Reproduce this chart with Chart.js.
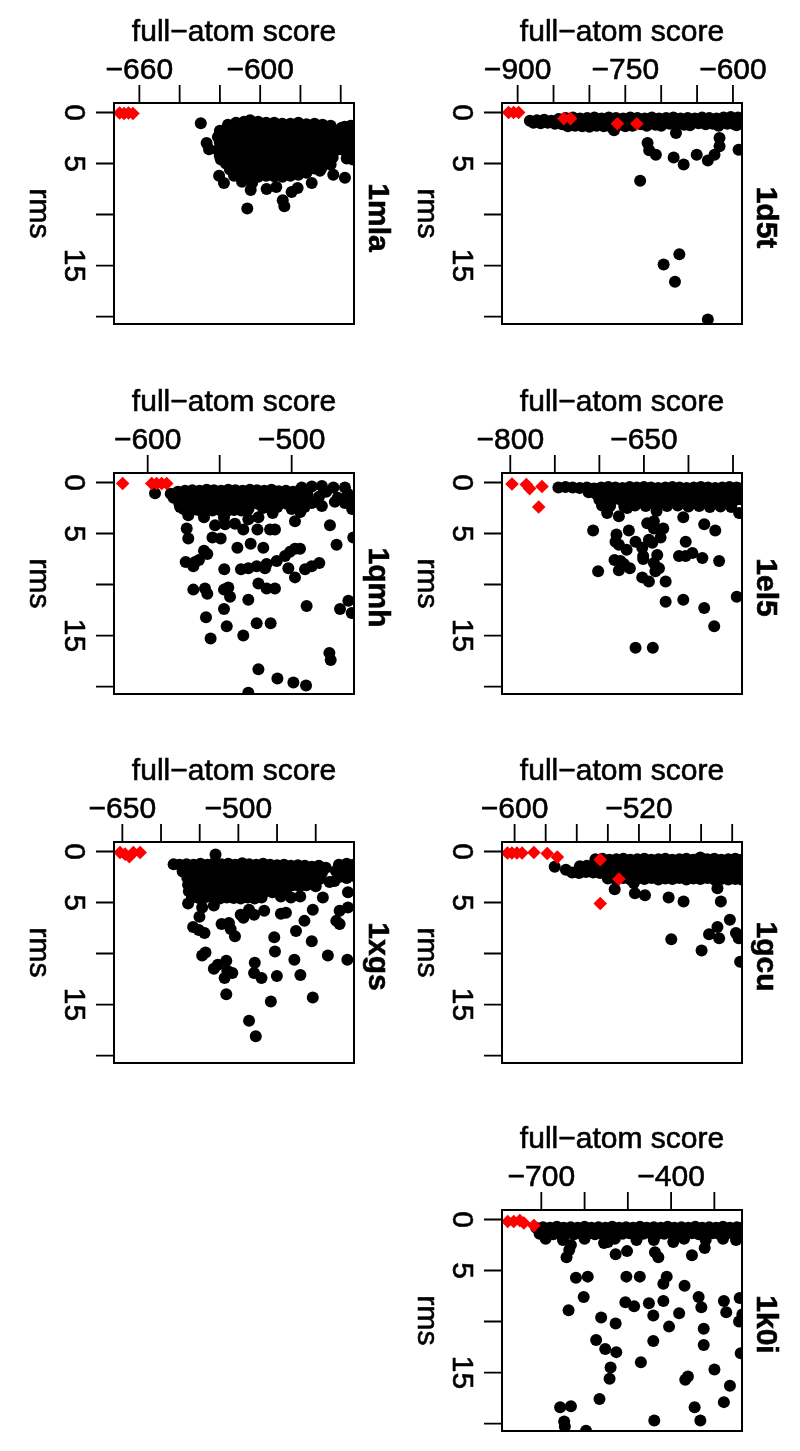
<!DOCTYPE html>
<html>
<head>
<meta charset="utf-8">
<script src="https://cdn.jsdelivr.net/npm/chart.js@4.4.1/dist/chart.umd.min.js"></script>
<style>
  html, body { margin: 0; padding: 0; background: #fff; overflow: hidden; }
  #wrap { position: relative; width: 800px; height: 1451px; }
  #wrap canvas { position: absolute; }
</style>
</head>
<body>
<div id="wrap"></div>
<script>
// rms axis, same for every panel
var yTicks = [0, 5, 10, 15, 20];
var yTickLabels = [0, 5, 15];

// ---- 1mla ----
var mlaTicks = [-660, -640, -620, -600, -580, -560];
var mlaTickLabels = [-660, -600];
var mlaRed = [[-669.8,0.05],[-667.6,0.1],[-665.4,0.05],[-663.2,0.1]];
var mlaBlack = [
  [-616,1.2],[-612,1.0],[-608,0.9],[-605,0.75],[-601,0.9],[-597,1.0],[-593,1.0],[-589,1.1],[-585,1.1],[-581,1.0],[-577,1.15],[-573,1.1],[-569,1.2],[-565,1.3],[-558,1.4],[-555,1.3],
  [-620,1.8],[-616.5,1.7],[-613,1.6],[-609.5,1.7],[-606,1.6],[-602.5,1.7],[-599,1.6],[-595.5,1.7],[-592,1.6],[-588.5,1.7],[-585,1.6],[-581.5,1.7],[-578,1.6],[-574.5,1.7],[-571,1.7],[-567.5,1.8],[-564,1.8],[-560.5,1.7],[-557,1.8],[-554,1.7],
  [-621,2.4],[-618,2.3],[-614.5,2.4],[-611,2.35],[-607.5,2.3],[-604,2.4],[-600.5,2.35],[-597,2.3],[-593.5,2.4],[-590,2.35],[-586.5,2.3],[-583,2.4],[-579.5,2.35],[-576,2.3],[-572.5,2.4],[-569,2.35],[-565.5,2.4],[-562,2.3],[-558.5,2.4],[-555,2.35],
  [-620,3.0],[-616.5,3.05],[-613,2.95],[-609.5,3.0],[-606,3.05],[-602.5,2.95],[-599,3.0],[-595.5,3.05],[-592,2.95],[-588.5,3.0],[-585,3.05],[-581.5,2.95],[-578,3.0],[-574.5,3.05],[-571,2.95],[-567.5,3.0],[-564,3.05],[-560.5,2.95],[-557,3.0],[-554,3.05],
  [-621,3.7],[-618,3.6],[-614.5,3.65],[-611,3.7],[-607.5,3.6],[-604,3.65],[-600.5,3.7],[-597,3.6],[-593.5,3.65],[-590,3.7],[-586.5,3.6],[-583,3.65],[-579.5,3.7],[-576,3.6],[-572.5,3.65],[-569,3.7],[-565.5,3.6],[-562,3.65],[-558.5,3.7],[-555,3.6],
  [-620,4.3],[-616.5,4.35],[-613,4.25],[-609.5,4.3],[-606,4.35],[-602.5,4.25],[-599,4.3],[-595.5,4.35],[-592,4.25],[-588.5,4.3],[-585,4.35],[-581.5,4.25],[-578,4.3],[-574.5,4.35],[-571,4.25],[-567.5,4.3],[-564,4.4],[-557,4.5],[-554,4.6],
  [-617,5.0],[-614,4.95],[-610.5,5.0],[-607,4.9],[-603.5,5.0],[-600,4.95],[-596.5,5.0],[-593,4.9],[-589.5,5.0],[-586,4.95],[-582.5,5.0],[-579,4.9],[-575.5,5.0],[-572,4.95],[-568.5,5.0],[-565,5.1],
  [-615,5.6],[-611.5,5.65],[-608,5.55],[-604.5,5.6],[-601,5.65],[-597.5,5.55],[-594,5.6],[-590.5,5.65],[-587,5.55],[-583.5,5.6],[-580,5.65],[-576.5,5.55],[-573,5.5],[-569.5,5.45],
  [-613,6.2],[-609,6.3],[-605,6.4],[-601,6.3],[-597,6.2],[-593,6.25],[-589,6.3],[-585,6.2],[-581,6.1],[-577,5.9],
  [-609,6.8],[-604,6.9],[-629.5,1.05],[-626.6,3.0],[-625.4,3.6],[-620.4,6.2],[-618,6.9],[-604.7,7.6],[-606.4,9.4],
  [-596.8,7.5],[-592,7.3],[-588.8,8.6],[-588,9.2],[-584.4,7.8],[-581.4,7.4],[-574.4,6.9],[-570.3,5.7],[-563.7,6.1],
  [-557.9,6.4],[-559.5,1.5],[-619.5,4.6]
];

// ---- 1d5t ----
var d5tTicks = [-900, -850, -800, -750, -700, -650, -600];
var d5tTickLabels = [-900, -750, -600];
var d5tRed = [[-912.6,0],[-905.6,0],[-898.6,0],[-835.6,0.6],[-826.3,0.6],[-761,1.1],[-734,1.1]];
var d5tBlack = [
  [-883,0.8],[-873,0.75],[-863,0.7],[-853,0.8],[-843,0.65],[-833,0.55],[-823,0.5],[-813,0.6],[-803,0.55],[-793,0.5],[-783,0.6],[-773,0.5],[-763,0.55],[-753,0.6],[-743,0.5],[-733,0.55],[-723,0.6],[-713,0.5],[-703,0.6],[-693,0.55],[-683,0.5],[-673,0.6],[-663,0.55],[-653,0.6],[-643,0.5],[-633,0.55],[-623,0.6],[-613,0.5],[-603,0.45],[-593,0.5],[-588,0.6],
  [-878,1.0],[-868,1.05],[-858,1.0],[-848,1.1],[-838,1.15],[-828,1.2],[-818,1.15],[-808,1.1],[-798,1.2],[-788,1.15],[-778,1.1],[-768,1.25],[-758,1.2],[-748,1.15],[-738,1.2],[-728,1.15],[-718,1.1],[-708,1.2],[-698,1.15],[-688,1.1],[-678,1.15],[-668,1.2],[-658,1.1],[-648,1.05],[-638,1.15],[-628,1.1],[-618,1.05],[-608,1.1],[-598,1.15],[-590,1.0],
  [-830,1.35],[-820,1.3],[-810,1.35],[-800,1.4],[-790,1.3],[-780,1.35],[-770,1.4],[-750,1.35],[-740,1.3],[-720,1.3],[-700,1.3],[-660,1.25],[-620,1.3],[-595,1.25],
  [-765.7,1.75],[-679.4,2.0],[-719,3.0],[-716.7,3.7],[-707.4,4.15],[-729.3,6.7],[-682.6,4.4],[-668.7,5.1],
  [-650.5,4.15],[-635,4.7],[-625.7,4.15],[-618.7,3.3],[-618.7,2.5],[-592.2,3.66],[-696.6,14.9],[-674.7,13.9],
  [-680.8,16.6],[-635,20.3]
];

// ---- 1qmh ----
var qmhTicks = [-600, -550, -500];
var qmhTickLabels = [-600, -500];
var qmhRed = [[-617.4,0.1],[-597.2,0.1],[-593.8,0.1],[-590.3,0.1],[-586.8,0.1]];
var qmhBlack = [
  [-594.9,1.05],
  [-584,1.1],[-579,0.9],[-574,0.8],[-569,0.75],[-564,0.8],[-559,0.7],[-554,0.75],[-549,0.8],[-544,0.7],[-539,0.75],[-534,0.8],[-529,0.7],[-524,0.75],[-519,0.8],[-514,0.7],[-509,0.85],[-504,0.8],[-499,0.9],[-494,0.7],
  [-582,1.5],[-576.5,1.45],[-571.5,1.5],[-566.5,1.4],[-561.5,1.45],[-556.5,1.5],[-551.5,1.4],[-546.5,1.45],[-541.5,1.5],[-536.5,1.4],[-531.5,1.45],[-526.5,1.5],[-521.5,1.4],[-516.5,1.45],[-511.5,1.5],[-506.5,1.4],[-501.5,1.5],[-496.5,1.6],[-491,1.5],
  [-578,2.1],[-573,2.05],[-568,2.15],[-563,2.1],[-558,2.05],[-553,2.15],[-548,2.1],[-543,2.05],[-538,2.15],[-533,2.1],[-528,2.05],[-523,2.1],[-518,2.05],[-513,2.1],[-508,2.0],[-503,2.1],[-498,2.2],
  [-575,2.6],[-570,2.75],[-565,2.7],[-560,2.65],[-555,2.75],[-550,2.7],[-545,2.8],[-540,2.7],[-535,2.75],[-530,2.6],[-520,2.5],[-510,2.4],[-500,2.6],[-494,2.9],
  [-493,0.5],[-486,0.4],[-479,0.35],[-471,0.5],[-463,0.5],[-489,1.2],[-481,1.4],[-476,0.9],[-468,1.5],[-461,1.1],[-457,1.6],[-486,2.0],[-479,2.3],[-470,1.9],[-463,2.0],[-458,2.6],[-491,2.4],
  [-577.5,2.4],[-571.8,3.2],[-560.9,3.4],[-572.9,4.5],[-571.8,5.5],[-553.2,4.2],[-555,5.4],[-549.3,5.5],
  [-547,3.4],[-546.3,4.1],[-539.4,4.05],[-533.6,4.6],[-530.1,3.6],[-523.1,3.4],[-523.8,4.6],[-513.2,3.0],
  [-515,4.6],[-511.6,4.6],[-497.7,3.8],[-560.9,6.7],[-558.6,7.0],[-537.7,6.4],[-528.5,6.0],[-519.7,6.4],
  [-573.6,7.8],[-567.1,7.8],[-564.4,7.6],[-568.3,8.2],[-546.8,8.5],[-535.2,8.5],[-530.1,8.4],[-524.3,8.2],
  [-518.5,8.4],[-517.4,8.0],[-510.4,7.7],[-504.6,7.2],[-501.2,6.8],[-497.7,6.5],[-494.2,6.5],[-502.3,8.4],
  [-497.7,9.3],[-490.7,8.5],[-486.1,8.2],[-480.8,7.9],[-473.4,4.2],[-468.8,6.1],[-457.2,5.4],[-568.3,10.5],
  [-560.2,10.4],[-558.6,10.9],[-547,10.5],[-544,10.3],[-542.8,11.2],[-523.1,9.9],[-517.4,10.4],[-511.6,10.4],
  [-530.1,11.5],[-547,12.4],[-489.6,12.1],[-466.4,12.4],[-460.6,11.6],[-458.3,12.8],[-559.5,13.2],[-545.1,14.1],
  [-556.3,15.3],[-533.6,15.0],[-524.3,13.8],[-514.6,13.8],[-473.8,16.7],[-472.9,17.4],[-523.1,18.3],[-509.9,19.2],
  [-498.8,19.6],[-490,19.9],[-530.1,20.6]
];

// ---- 1el5 ----
var el5Ticks = [-800, -750, -700, -650, -600, -550];
var el5TickLabels = [-800, -650];
var el5Red = [[-798.1,0.15],[-782,0.2],[-778.3,0.6],[-764.4,0.4],[-768.1,2.4]];
var el5Black = [
  [-746,0.5],[-738,0.45],[-730,0.5],[-722,0.55],[-714,0.5],[-706,0.6],[-698,0.5],[-690,0.45],[-682,0.5],[-674,0.55],[-666,0.45],[-658,0.5],[-650,0.45],[-642,0.5],[-634,0.55],[-626,0.5],[-618,0.45],[-610,0.5],[-602,0.55],[-594,0.5],[-586,0.45],[-578,0.5],[-570,0.55],[-562,0.5],[-554,0.45],[-546,0.5],[-541,0.6],
  [-712,0.95],[-704,1.1],[-696,1.05],[-688,1.15],[-680,1.1],[-672,1.05],[-664,1.15],[-656,1.1],[-648,1.05],[-640,1.1],[-632,1.15],[-624,1.05],[-616,1.1],[-608,1.15],[-600,1.05],[-592,1.1],[-584,1.15],[-576,1.05],[-568,1.1],[-560,1.15],[-552,1.05],[-544,1.1],
  [-700,1.7],[-692,1.75],[-684,1.65],[-676,1.7],[-668,1.75],[-660,1.65],[-652,1.7],[-644,1.75],[-636,1.65],[-628,1.7],[-620,1.75],[-612,1.65],[-604,1.7],[-596,1.75],[-588,1.65],[-580,1.7],[-572,1.75],[-564,1.65],[-556,1.7],[-548,1.75],[-541,1.65],
  [-697,2.25],[-688,2.3],[-672,2.35],[-660,2.25],[-648,2.3],[-636,2.4],[-624,2.3],[-612,2.25],[-600,2.35],[-588,2.3],[-576,2.4],[-564,2.35],[-552,2.4],
  [-691.3,3.0],[-678.1,3.3],[-693.1,2.3],[-668.8,2.5],[-707,4.7],[-680.8,5.1],[-681.9,5.8],[-678.1,6.1],
  [-666.9,4.7],[-669.4,6.6],[-659.4,5.8],[-651.9,6.4],[-650.8,7.2],[-644.4,5.6],[-640.6,5.9],[-646.3,4.0],
  [-638.8,3.8],[-635.8,2.8],[-638.8,4.5],[-628.3,4.5],[-631.3,5.4],[-635,7.1],[-633.1,8.4],[-638.8,7.9],
  [-637.1,8.7],[-650.8,7.5],[-683,7.6],[-676.3,7.7],[-672.5,8.0],[-665.8,8.4],[-678.1,8.6],[-701.4,8.7],
  [-651.9,9.3],[-644.4,9.7],[-625.6,9.7],[-605.8,3.4],[-603.1,5.8],[-610.6,7.2],[-603.1,7.2],[-595.6,6.9],
  [-625.6,11.7],[-605.8,11.5],[-584.4,7.4],[-565.6,7.7],[-582.3,4.1],[-569.9,4.7],[-545.8,11.2],[-582.3,12.3],
  [-571.1,14.1],[-659.4,16.2],[-640,16.2],[-543.1,3.0]
];

// ---- 1xgs ----
var xgsTicks = [-650, -600, -550, -500, -450, -400];
var xgsTickLabels = [-650, -500];
var xgsRed = [[-653,0.1],[-646.5,0.26],[-640.9,0.5],[-635.7,0.1],[-627,0.1]];
var xgsBlack = [
  [-583.7,1.24],[-529.5,0.3],
  [-576,1.3],[-567,1.25],[-558,1.3],[-549,1.2],[-540,1.3],[-531,1.1],[-522,1.25],[-513,1.2],[-504,1.3],[-495,1.15],[-486,1.25],[-477,1.3],[-468,1.2],[-459,1.3],[-450,1.35],[-441,1.3],[-432,1.4],[-423,1.35],[-414,1.4],[-405,1.5],[-396,1.4],[-387,1.6],[-370,1.3],[-360,1.2],[-351,1.3],
  [-572,1.95],[-563,2.0],[-554,1.9],[-545,1.95],[-536,2.0],[-527,1.9],[-518,1.95],[-509,2.0],[-500,1.9],[-491,1.95],[-482,2.0],[-473,1.9],[-464,1.95],[-455,2.0],[-446,1.9],[-437,1.95],[-428,2.0],[-419,1.9],[-410,1.95],[-401,2.0],[-392,2.1],[-374,1.9],[-365,1.95],[-356,2.0],[-350,1.9],
  [-566,2.6],[-557,2.65],[-548,2.55],[-539,2.6],[-530,2.65],[-521,2.55],[-512,2.6],[-503,2.65],[-494,2.55],[-485,2.6],[-476,2.65],[-467,2.55],[-458,2.6],[-449,2.65],[-440,2.55],[-431,2.6],[-422,2.7],[-413,2.6],[-404,2.8],[-395,2.7],[-370,2.5],[-360,2.6],[-351,2.4],
  [-565,3.25],[-556,3.3],[-547,3.2],[-538,3.25],[-529,3.3],[-520,3.2],[-511,3.25],[-502,3.3],[-493,3.2],[-484,3.25],[-475,3.3],[-466,3.2],[-457,3.25],[-448,3.3],[-439,3.2],[-430,3.3],[-421,3.4],[-412,3.3],[-400,3.4],
  [-564,3.9],[-555,3.95],[-546,3.85],[-537,3.9],[-528,3.95],[-519,3.85],[-510,3.9],[-501,3.95],[-492,3.85],[-483,3.9],[-474,3.95],[-465,3.9],[-456,4.0],[-447,3.9],[-438,4.1],
  [-560,4.5],[-551,4.55],[-542,4.45],[-533,4.5],[-524,4.6],[-515,4.5],[-506,4.55],[-497,4.6],[-488,4.5],[-479,4.6],[-470,4.5],[-445,4.4],[-432,4.5],[-420,4.4],
  [-565,5.1],[-546.8,5.5],[-550.3,6.4],[-531.7,5.3],[-558.5,7.4],[-551.2,7.7],[-543.8,8.0],[-521.7,7.1],
  [-512.2,7.0],[-510,7.6],[-504.4,8.3],[-497,6.2],[-493.5,6.5],[-486.2,5.7],[-479.7,6.2],[-466.6,5.8],
  [-445,6.1],[-438.5,6.0],[-414.6,6.8],[-403.8,5.7],[-425.5,7.8],[-453.6,8.4],[-405.1,8.8],[-373.4,6.8],
  [-369.1,7.1],[-358.3,5.5],[-369.1,5.8],[-358.3,4.0],[-382.1,3.0],[-375.6,2.9],[-390.8,4.5],[-546.8,10.2],
  [-542.5,9.9],[-531.7,11.5],[-526.5,11.1],[-515.6,10.7],[-514.3,11.7],[-507.8,11.9],[-517.8,12.4],[-478.8,10.9],
  [-479.7,11.9],[-470.1,12.4],[-452.7,9.8],[-450.2,12.2],[-427.6,10.6],[-419.8,12.1],[-384.3,10.2],[-359.1,10.6],
  [-515.6,14.0],[-458,14.7],[-403.8,14.3],[-486.2,16.6],[-477.5,18.1]
];

// ---- 1gcu ----
var gcuTicks = [-600, -580, -560, -540, -520, -500, -480, -460];
var gcuTickLabels = [-600, -520];
var gcuRed = [[-604.6,0.15],[-601.7,0.15],[-598.5,0.15],[-595.2,0.15],[-587.6,0.1],[-579,0.2],[-572.5,0.55],[-544.9,0.8],[-532.8,2.7],[-544.9,5.1]];
var gcuBlack = [
  [-574.2,1.5],[-567,1.8],
  [-548,0.75],[-543.5,0.7],[-539,0.8],[-534.5,0.75],[-530,0.7],[-525.5,0.8],[-521,0.75],[-516.5,0.7],[-512,0.8],[-507.5,0.75],[-503,0.7],[-498.5,0.8],[-494,0.75],[-489.5,0.7],[-485,0.8],[-480.5,0.6],[-476,0.75],[-471.5,0.7],[-467,0.8],[-462.5,0.75],[-458,0.7],[-454,0.8],
  [-558,1.45],[-553.5,1.4],[-549,1.45],[-544.5,1.4],[-540,1.45],[-535.5,1.4],[-531,1.45],[-526.5,1.4],[-522,1.45],[-517.5,1.4],[-513,1.45],[-508.5,1.4],[-504,1.45],[-499.5,1.4],[-495,1.45],[-490.5,1.4],[-486,1.45],[-481.5,1.4],[-477,1.45],[-472.5,1.4],[-468,1.45],[-463.5,1.4],[-459,1.45],[-454.5,1.4],
  [-563,2.05],[-558.5,2.1],[-554,2.0],[-549.5,2.05],[-545,2.1],[-540.5,2.0],[-536,2.05],[-531.5,2.1],[-527,2.0],[-522.5,2.05],[-518,2.1],[-513.5,2.0],[-509,2.05],[-504.5,2.1],[-500,2.0],[-495.5,2.05],[-491,2.1],[-486.5,2.0],[-482,2.05],[-477.5,2.1],[-473,2.0],[-468.5,2.05],[-464,2.1],[-459.5,2.0],[-455,2.05],
  [-540,2.65],[-535,2.7],[-530,2.6],[-525.5,2.75],[-521,2.65],[-516.5,2.7],[-512,2.6],[-507.5,2.75],[-503,2.65],[-498.5,2.7],[-494,2.6],[-489.5,2.75],[-485,2.65],[-480.5,2.7],[-476,2.6],[-471.5,2.75],[-467,2.7],[-462.5,2.75],[-458,2.7],[-454,2.75],
  [-535.6,3.7],[-523.3,3.1],[-522.6,4.1],[-516.1,4.3],[-500.9,4.5],[-491.3,4.9],[-467.3,4.9],[-469.5,3.6],
  [-461.5,6.7],[-469.5,7.4],[-474.9,8.1],[-468.4,8.5],[-457.6,8.0],[-455.8,8.5],[-499.2,8.6],[-479.7,9.7],
  [-454.9,10.8]
];

// ---- 1k0i ----
var k0iTicks = [-700, -600, -500, -400, -300];
var k0iTickLabels = [-700, -400];
var k0iRed = [[-777.7,0.2],[-763.7,0.2],[-749.7,0.1],[-740.4,0.35],[-717.1,0.6]];
var k0iBlack = [
  [-712,0.8],[-696,0.75],[-680,0.8],[-664,0.7],[-648,0.8],[-632,0.75],[-616,0.8],[-600,0.7],[-584,0.8],[-568,0.75],[-552,0.8],[-536,0.7],[-520,0.8],[-504,0.75],[-488,0.8],[-472,0.7],[-456,0.8],[-440,0.75],[-424,0.8],[-408,0.7],[-392,0.8],[-376,0.75],[-360,0.8],[-344,0.7],[-328,0.8],[-312,0.75],[-296,0.8],[-280,0.7],[-264,0.8],[-248,0.75],[-236,0.8],
  [-704,1.4],[-688,1.35],[-672,1.45],[-656,1.4],[-640,1.35],[-624,1.45],[-608,1.4],[-592,1.35],[-576,1.45],[-560,1.4],[-544,1.35],[-528,1.45],[-512,1.4],[-496,1.35],[-480,1.45],[-464,1.4],[-448,1.35],[-432,1.45],[-416,1.4],[-400,1.35],[-384,1.45],[-368,1.4],[-352,1.35],[-336,1.45],[-320,1.4],[-304,1.35],[-288,1.45],[-272,1.4],[-256,1.35],[-240,1.45],
  [-690,1.9],[-650,2.0],[-600,1.9],[-555,2.3],[-530,1.9],[-480,2.0],[-440,2.0],[-395,2.2],[-370,1.9],[-320,2.0],[-280,1.9],[-250,2.0],
  [-641.7,3.7],[-635.5,3.0],[-631.6,2.5],[-546.1,2.2],[-528.2,3.4],[-501.8,3.1],[-437.3,3.2],[-429.5,3.7],
  [-351.8,3.5],[-322.3,2.8],[-620,5.7],[-592.7,5.6],[-602.1,7.6],[-503.4,5.6],[-472.3,5.6],[-410.1,5.6],
  [-417.9,6.3],[-368.9,6.5],[-505.7,8.1],[-485.5,8.5],[-451.3,8.2],[-417.9,8.0],[-336.3,7.6],[-330.1,8.6],
  [-278,8.0],[-272.5,9.1],[-241.5,7.7],[-235.3,9.3],[-243,10.0],[-637,8.9],[-561.7,9.6],[-528.2,10.2],
  [-441.2,9.4],[-381.4,9.2],[-404.7,10.5],[-324.6,10.7],[-324.6,12.3],[-573.3,11.8],[-552.3,12.7],[-526.7,13.0],
  [-441.2,11.9],[-469.9,14.0],[-539.9,14.5],[-542.2,15.6],[-239.1,13.1],[-361.1,15.4],[-367.3,15.7],[-299.8,14.7],
  [-264,16.3],[-565.5,17.6],[-656.5,18.4],[-631.6,18.3],[-647.2,19.8],[-645.6,20.3],[-596.6,20.7],[-438.9,19.7],
  [-345.6,18.4],[-332.4,19.7],[-278,17.9]
];

var panels = [
  { name: '1mla', col: 0, row: 0, xMin: -672.6, xMax: -553.4, ticks: mlaTicks, labels: mlaTickLabels, red: mlaRed, black: mlaBlack },
  { name: '1d5t', col: 1, row: 0, xMin: -921.8, xMax: -587.4, ticks: d5tTicks, labels: d5tTickLabels, red: d5tRed, black: d5tBlack },
  { name: '1qmh', col: 0, row: 1, xMin: -623.4, xMax: -456.7, ticks: qmhTicks, labels: qmhTickLabels, red: qmhRed, black: qmhBlack },
  { name: '1el5', col: 1, row: 1, xMin: -809.3, xMax: -539.9, ticks: el5Ticks, labels: el5TickLabels, red: el5Red, black: el5Black },
  { name: '1xgs', col: 0, row: 2, xMin: -660.8, xMax: -350.5, ticks: xgsTicks, labels: xgsTickLabels, red: xgsRed, black: xgsBlack },
  { name: '1gcu', col: 1, row: 2, xMin: -608.1, xMax: -453.7, ticks: gcuTicks, labels: gcuTickLabels, red: gcuRed, black: gcuBlack },
  { name: '1k0i', col: 1, row: 3, xMin: -790.9, xMax: -236.1, ticks: k0iTicks, labels: k0iTickLabels, red: k0iRed, black: k0iBlack }
];

var boxLeft = [114, 501.5];
var boxTop = [103, 473, 842, 1210];
var BOX_W = 240, BOX_H = 221;
var CW = 400, CH = 340;
var FONT = '"Liberation Sans", Arial, Helvetica, sans-serif';

function minusFmt(v) {
  return v < 0 ? '\u2212' + Math.abs(v) : String(v);
}

// filled text with a hairline stroke, a touch heavier like the original
function inkText(ctx, txt, x, y) {
  ctx.fillText(txt, x, y);
  ctx.strokeText(txt, x, y);
}

// text turned a quarter clockwise, glyph tops facing right
function sideText(ctx, txt, x, y, font) {
  ctx.save();
  ctx.translate(x, y);
  ctx.rotate(Math.PI / 2);
  ctx.font = font;
  ctx.textAlign = 'center';
  ctx.textBaseline = 'alphabetic';
  inkText(ctx, txt, 0, 0);
  ctx.restore();
}

function framePlugin(p) {
  return {
    id: 'frame',
    afterDraw: function (chart) {
      var ctx = chart.ctx, a = chart.chartArea;
      var xs = chart.scales.x, ys = chart.scales.y;
      ctx.save();
      ctx.strokeStyle = '#000';
      ctx.fillStyle = '#000';
      ctx.lineWidth = 2;
      ctx.strokeRect(a.left, a.top, a.right - a.left, a.bottom - a.top);

      ctx.lineWidth = 1.8;
      ctx.beginPath();
      p.ticks.forEach(function (v) {
        var px = xs.getPixelForValue(v);
        ctx.moveTo(px, a.top);
        ctx.lineTo(px, a.top - 18);
      });
      yTicks.forEach(function (v) {
        var py = ys.getPixelForValue(v);
        ctx.moveTo(a.left, py);
        ctx.lineTo(a.left - 18, py);
      });
      ctx.stroke();

      ctx.lineWidth = 0.6;
      ctx.font = '30px ' + FONT;
      ctx.textAlign = 'center';
      ctx.textBaseline = 'alphabetic';
      p.labels.forEach(function (v) {
        inkText(ctx, minusFmt(v), xs.getPixelForValue(v), a.top - 24.5);
      });
      inkText(ctx, 'full\u2212atom score', (a.left + a.right) / 2, a.top - 62);

      yTickLabels.forEach(function (v) {
        sideText(ctx, String(v), a.left - 49, ys.getPixelForValue(v), '30px ' + FONT);
      });
      sideText(ctx, 'rms', a.left - 84, (a.top + a.bottom) / 2, '30px ' + FONT);
      sideText(ctx, p.name, a.right + 15, (a.top + a.bottom) / 2 + 4, 'bold 30px ' + FONT);
      ctx.restore();
    }
  };
}

function toPts(arr) {
  return arr.map(function (d) { return { x: d[0], y: d[1] }; });
}

var wrap = document.getElementById('wrap');
panels.forEach(function (p) {
  var cv = document.createElement('canvas');
  cv.width = CW;
  cv.height = CH;
  cv.style.width = CW + 'px';
  cv.style.height = CH + 'px';
  cv.style.left = (boxLeft[p.col] - 114) + 'px';
  cv.style.top = (boxTop[p.row] - 103) + 'px';
  wrap.appendChild(cv);

  new Chart(cv, {
    type: 'scatter',
    data: {
      datasets: [
        {
          label: 'native-like',
          data: toPts(p.red),
          pointStyle: 'rectRot',
          pointRadius: 6.8,
          pointBackgroundColor: '#ff0000',
          pointBorderWidth: 0,
          clip: 0
        },
        {
          label: 'decoys',
          data: toPts(p.black),
          pointStyle: 'circle',
          pointRadius: 6,
          pointBackgroundColor: '#000000',
          pointBorderWidth: 0,
          clip: 0
        }
      ]
    },
    options: {
      responsive: false,
      animation: false,
      devicePixelRatio: 1,
      events: [],
      layout: { padding: { left: 114, top: 103, right: CW - 114 - BOX_W, bottom: CH - 103 - BOX_H } },
      scales: {
        x: { type: 'linear', min: p.xMin, max: p.xMax, display: false },
        y: { type: 'linear', min: -0.93, max: 20.73, reverse: true, display: false }
      },
      plugins: { legend: { display: false }, tooltip: { enabled: false } }
    },
    plugins: [framePlugin(p)]
  });
});
</script>
</body>
</html>
